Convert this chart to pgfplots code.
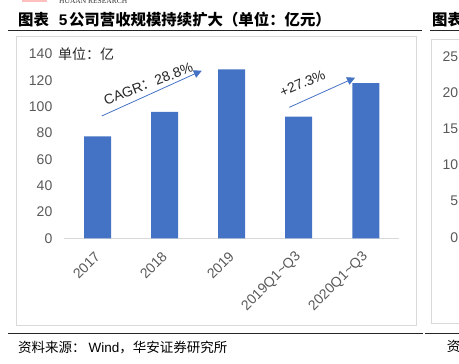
\documentclass[border=0pt]{standalone}
\usepackage{fontspec}
\usepackage{pgfplots}
\pgfplotsset{compat=1.18}
\usetikzlibrary{arrows.meta}
\setmainfont{Liberation Sans}
\newfontfamily\cjk{Noto Sans CJK SC}
\newfontfamily\serifen{Liberation Serif}
\definecolor{barblue}{HTML}{4472C4}
\definecolor{ticklab}{HTML}{595959}
\definecolor{boxgray}{HTML}{D9D9D9}
\definecolor{txt}{HTML}{262626}
\begin{document}
\begin{tikzpicture}[x=1pt,y=1pt]
\useasboundingbox (0,0) rectangle (459,364);
% header
\fill[red!25] (22,362) rectangle (47,364);
\node[anchor=base west, inner sep=0, font=\serifen\fontsize{7.5}{8}\selectfont, text=black!80] at (59,360) {HUAAN RESEARCH};
\node[anchor=west, inner sep=0, font=\cjk\bfseries\fontsize{15.4}{16}\selectfont] at (18,344.5) {图表\hspace{10pt}{\rmfamily\bfseries 5}\hspace{1.5pt}公司营收规模持续扩大（单位：亿元）};
\node[anchor=west, inner sep=0, font=\cjk\bfseries\fontsize{15.4}{16}\selectfont] at (432,344.5) {图表};
\draw[black!85, line width=1.1pt] (8,333.5) -- (421.7,333.5);
\draw[black!85, line width=1.1pt] (430,333.5) -- (470,333.5);
% boxes
\draw[boxgray, line width=0.9pt] (16,38.5) rectangle (416.7,328);
\draw[boxgray, line width=0.9pt] (431.7,41) rectangle (480,324.7);
% footer
\draw[black!85, line width=1.1pt] (8,30.7) -- (422.7,30.7);
\draw[black!85, line width=1.1pt] (425,30.7) -- (470,30.7);
\node[anchor=west, inner sep=0, font=\fontsize{13.5}{14}\selectfont] at (18,16) {{\cjk 资料来源：}\hspace{3pt}Wind{\cjk ，华安证券研究所}};
\node[anchor=west, inner sep=0, font=\cjk\fontsize{13.5}{14}\selectfont] at (446.7,18) {资};
% unit label
\node[anchor=west, inner sep=0, font=\cjk\fontsize{14}{16}\selectfont, text=txt] at (58,310) {单位：亿};

\begin{axis}[
  at={(64pt,125.7pt)}, anchor=south west, scale only axis,
  width=335.3pt, height=184.3pt,
  xmin=-0.5, xmax=4.5, ymin=0, ymax=140,
  ybar, bar width=27pt,
  xtick={0,1,2,3,4},
  xticklabels={2017,2018,2019,2019Q1\textasciitilde Q3,2020Q1\textasciitilde Q3},
  ytick={0,20,...,140},
  major tick length=0pt,
  axis x line*=bottom, axis y line*=left,
  x axis line style={draw=boxgray, line width=0.9pt, -},
  y axis line style={draw=none},
  tick label style={font=\fontsize{14}{16}\selectfont, text=ticklab},
  /pgf/number format/assume math mode=true,
  xticklabel style={rotate=45, anchor=east, inner sep=0pt},
  xticklabel shift=16pt,
  yticklabel style={anchor=east, inner sep=0pt},
  yticklabel shift=11.5pt,
  clip=false,
]
\addplot[fill=barblue, draw=none] coordinates {(0,77.5) (1,96) (2,128.4) (3,92.4) (4,117.8)};
\draw[barblue, line width=0.8pt, -{Triangle[length=8pt,width=8pt]}] (axis cs:0.063,92.9) -- (axis cs:1.554,127.3);
\node[rotate=21, text=txt, font=\fontsize{14}{16}\selectfont, inner sep=0] at (axis cs:0.757,117.4) {CAGR{\cjk ：}28.8\%};
\draw[barblue, line width=0.8pt, -{Triangle[length=8pt,width=8pt]}] (axis cs:2.86,99.5) -- (axis cs:3.84,122.0);
\node[rotate=23, text=txt, font=\fontsize{14}{16}\selectfont, inner sep=0] at (axis cs:3.057,117.8) {+27.3\%};
\end{axis}

\begin{axis}[
  at={(469.8pt,126.7pt)}, anchor=south west, scale only axis,
  width=50pt, height=180.3pt,
  xmin=0, xmax=1, ymin=0, ymax=25,
  ytick={0,5,...,25}, xtick=\empty,
  major tick length=0pt,
  axis line style={draw=none},
  tick label style={font=\fontsize{14}{16}\selectfont, text=ticklab},
  /pgf/number format/assume math mode=true,
  yticklabel style={anchor=east, inner sep=0pt},
  yticklabel shift=11.5pt,
]
\end{axis}
\end{tikzpicture}
\end{document}
